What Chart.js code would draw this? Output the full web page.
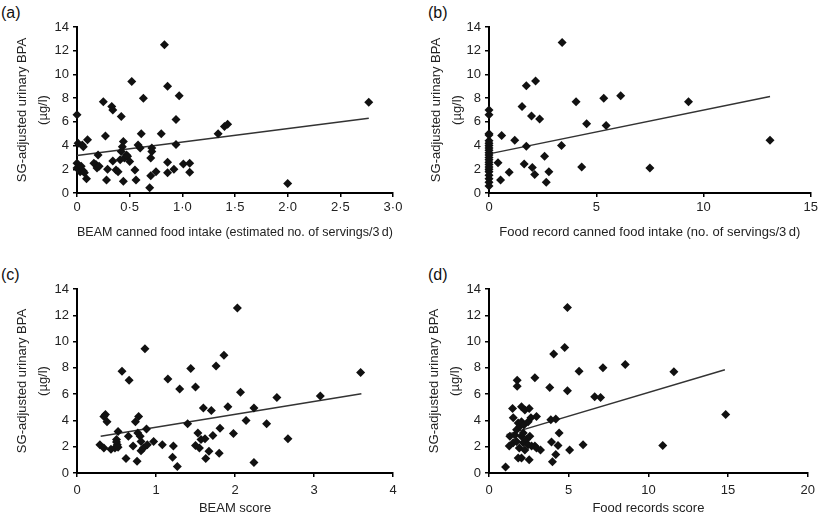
<!DOCTYPE html>
<html>
<head>
<meta charset="utf-8">
<script src="https://cdn.jsdelivr.net/npm/chart.js@4.4.1/dist/chart.umd.min.js"></script>
<style>
  body { margin: 0; background: #fff; width: 821px; height: 519px; position: relative; overflow: hidden;
         font-family: "Liberation Sans", Arial, sans-serif; }
  canvas { position: absolute; }
  .tag { position: absolute; font-size: 16px; color: #111; line-height: 16px; }
</style>
</head>
<body>
<div class="tag" style="left:1px;top:5px">(a)</div>
<div class="tag" style="left:428px;top:5px">(b)</div>
<div class="tag" style="left:1px;top:267px">(c)</div>
<div class="tag" style="left:428px;top:267px">(d)</div>
<canvas id="pa" width="410" height="250" style="left:0;top:0"></canvas>
<canvas id="pb" width="411" height="250" style="left:410px;top:0"></canvas>
<canvas id="pc" width="410" height="259" style="left:0;top:260px"></canvas>
<canvas id="pd" width="411" height="259" style="left:410px;top:260px"></canvas>
<script>
// (a) BEAM canned food intake vs BPA
const beamCannedX = [0, 0, 0, 0.01, 0.03, 0.05, 0.06, 0.04, 0.06, 0.07, 0.1, 0.09, 0.16, 0.18, 0.19, 0.2, 0.21,
  0.25, 0.27, 0.28, 0.29, 0.33, 0.34, 0.34, 0.37, 0.39, 0.41, 0.42, 0.44, 0.43, 0.42, 0.44, 0.45, 0.47, 0.48,
  0.5, 0.52, 0.55, 0.56, 0.58, 0.6, 0.61, 0.63, 0.69, 0.71, 0.7, 0.7, 0.71, 0.75, 0.8, 0.83, 0.86, 0.86, 0.86,
  0.92, 0.94, 0.94, 0.97, 1.01, 1.07, 1.07, 1.34, 1.4, 1.43, 2.0, 2.77];
const beamCannedY = [6.6, 2.5, 2.1, 4.2, 1.8, 4.05, 3.9, 2.25, 1.85, 1.7, 4.5, 1.2, 2.5, 2.4, 2.1, 3.2, 2.25,
  7.7, 4.8, 1.1, 2.0, 7.3, 7.0, 2.7, 1.95, 1.8, 2.8, 6.45, 4.35, 3.9, 3.5, 1.0, 2.95, 3.2, 3.1,
  2.65, 9.4, 1.95, 1.1, 4.05, 3.8, 5.0, 8.0, 0.45, 3.8, 2.95, 1.45, 3.5, 1.8, 5.0, 12.5, 9.0, 2.6, 1.7,
  2.0, 6.2, 4.1, 8.2, 2.45, 2.5, 1.75, 5.0, 5.6, 5.8, 0.8, 7.65];
const beamCannedFit = [[0, 3.17], [2.77, 6.3]];

// (b) food record canned food intake vs BPA
const recordCannedX = [0, 0, 0, 0, 0, 0, 0, 0, 0, 0, 0, 0, 0, 0, 0, 0, 0, 0, 0, 0, 0, 0,
  0.42, 0.54, 0.59, 0.94, 1.2, 1.54, 1.74, 2.17, 1.64, 1.74, 1.98, 2.02, 2.13, 2.36, 2.59, 2.79, 2.67,
  3.41, 3.38, 4.06, 4.32, 4.55, 5.35, 5.46, 6.14, 7.5, 9.3, 13.1];
const recordCannedY = [0.6, 0.9, 1.2, 1.5, 1.8, 2.0, 2.2, 2.4, 2.6, 2.8, 3.0, 3.2, 3.4, 3.6, 3.8, 4.0, 4.2, 4.4, 4.9, 5.0, 6.6, 7.0,
  2.55, 1.1, 4.85, 1.75, 4.45, 7.3, 9.05, 9.45, 2.45, 3.95, 6.5, 2.15, 1.55, 6.25, 3.1, 1.8, 0.9,
  12.7, 4.0, 7.7, 2.2, 5.85, 8.0, 5.7, 8.2, 2.1, 7.7, 4.45];
const recordCannedFit = [[0, 3.3], [13.1, 8.13]];

// (c) BEAM score vs BPA
const beamScoreX = [0.29, 0.34, 0.34, 0.36, 0.38, 0.43, 0.48, 0.5, 0.51, 0.52, 0.5, 0.52, 0.57, 0.62, 0.65, 0.66,
  0.71, 0.74, 0.76, 0.78, 0.77, 0.8, 0.81, 0.81, 0.84, 0.86, 0.88, 0.89, 0.97, 1.08, 1.15, 1.22, 1.21, 1.27,
  1.3, 1.4, 1.44, 1.5, 1.5, 1.53, 1.55, 1.57, 1.6, 1.62, 1.63, 1.67, 1.7, 1.72, 1.76, 1.8, 1.81, 1.86, 1.91,
  1.98, 2.03, 2.07, 2.14, 2.24, 2.24, 2.4, 2.53, 2.67, 3.08, 3.59];
const beamScoreY = [2.15, 1.9, 4.3, 4.45, 3.9, 1.8, 1.9, 2.55, 2.15, 3.15, 2.35, 1.95, 7.75, 1.1, 2.8, 7.05,
  2.05, 3.9, 0.9, 4.3, 3.05, 2.8, 2.4, 1.7, 1.9, 9.45, 3.35, 2.15, 2.4, 2.15, 7.15, 2.05, 1.2, 0.5,
  6.4, 3.75, 7.95, 2.1, 6.55, 3.05, 1.9, 2.55, 4.95, 2.6, 1.1, 1.65, 4.75, 2.85, 8.15, 1.5, 3.4, 8.95, 5.05,
  3.0, 12.55, 6.15, 4.0, 4.95, 0.8, 3.75, 5.75, 2.6, 5.85, 7.65];
const beamScoreFit = [[0.3, 2.79], [3.6, 6.03]];

// (d) food records score vs BPA
const recordScoreX = [1.04, 1.27, 1.31, 1.48, 1.52, 1.52, 1.63, 1.73, 1.73, 1.77, 1.77, 1.83, 1.83, 1.9, 1.94,
  2.04, 2.04, 2.04, 2.04, 2.15, 2.15, 2.19, 2.25, 2.25, 2.35, 2.46, 2.46, 2.52, 2.52, 2.56, 2.63, 2.67, 2.88,
  2.88, 2.98, 2.98, 3.23, 3.81, 3.88, 3.92, 3.98, 4.06, 4.19, 4.19, 4.33, 4.4, 4.75, 4.92, 4.92, 5.06, 5.65,
  5.9, 6.63, 7.0, 7.15, 8.55, 10.9, 11.6, 14.85];
const recordScoreY = [0.45, 2.05, 2.8, 4.9, 2.3, 4.2, 2.9, 3.3, 2.4, 7.05, 6.6, 3.8, 1.15, 1.9, 3.55,
  5.05, 3.9, 2.8, 1.15, 2.3, 3.05, 3.65, 1.75, 4.8, 2.55, 2.15, 3.9, 4.9, 1.0, 2.8, 4.2, 2.05, 7.25,
  2.05, 4.3, 1.9, 1.75, 6.5, 4.05, 2.35, 0.85, 9.05, 4.1, 1.4, 2.1, 3.05, 9.55, 12.6, 6.25, 1.75, 7.75,
  2.15, 5.8, 5.75, 8.0, 8.25, 2.1, 7.7, 4.45];
const recordScoreFit = [[1.1, 2.92], [14.8, 7.85]];

const yTicks = { min: 0, max: 14, step: 2 };
const yTitle = ['SG-adjusted urinary BPA', '(\u00b5g/l)'];

function dotted(v) {
  return v === 0 ? '0' : v.toFixed(1).replace('.', '\u00b7');
}

function makePanel(id, xs, ys, fit, xMax, xStep, xLabel, fmt, box) {
  const pts = xs.map((x, i) => ({ x: x, y: ys[i] }));
  new Chart(document.getElementById(id), {
    type: 'scatter',
    data: {
      datasets: [
        { data: pts, pointStyle: 'rectRot', pointRadius: 4.5, pointHoverRadius: 4.5,
          backgroundColor: '#111', borderColor: '#111', borderWidth: 0, clip: false },
        { data: fit.map(p => ({ x: p[0], y: p[1] })), showLine: true, pointRadius: 0,
          borderColor: '#333', borderWidth: 1.5, clip: false }
      ]
    },
    options: {
      responsive: false,
      animation: false,
      layout: { padding: { top: box.top, right: box.right, left: 0, bottom: 0 } },
      plugins: { legend: { display: false }, tooltip: { enabled: false } },
      scales: {
        x: {
          type: 'linear', min: 0, max: xMax,
          afterFit: s => { s.height = box.xh; },
          border: { color: '#000', width: 2 },
          grid: { drawOnChartArea: false, drawTicks: true, tickLength: 4, color: '#000', lineWidth: 1.5 },
          ticks: { stepSize: xStep, padding: box.tp, color: '#222', maxRotation: 0,
                   font: { family: 'Liberation Sans', size: 13 }, callback: fmt },
          title: { display: true, text: xLabel, color: '#222', padding: { top: 0, bottom: box.tb },
                   font: { family: 'Liberation Sans', size: 13, lineHeight: 1.2 } }
        },
        y: {
          min: yTicks.min, max: yTicks.max,
          afterFit: s => { s.width = box.yw; },
          border: { color: '#000', width: 2 },
          grid: { drawOnChartArea: false, drawTicks: true, tickLength: 4, color: '#000', lineWidth: 1.5 },
          ticks: { stepSize: yTicks.step, padding: 4, color: '#222',
                   font: { family: 'Liberation Sans', size: 13 } },
          title: { display: true, text: yTitle, color: '#222', padding: { top: box.yp, bottom: 0 },
                   font: { family: 'Liberation Sans', size: 13, lineHeight: 1.6 } }
        }
      }
    }
  });
}

makePanel('pa', beamCannedX, beamCannedY, beamCannedFit, 3, 0.5,
  'BEAM canned food intake (estimated no. of servings/3\u2009d)', dotted,
  { top: 27, right: 17, xh: 57, yw: 77, tp: 3, tb: 10, yp: 12 });
makePanel('pb', recordCannedX, recordCannedY, recordCannedFit, 15, 5,
  'Food record canned food intake (no. of servings/3\u2009d)', v => v,
  { top: 27, right: 8, xh: 57, yw: 79, tp: 3, tb: 10, yp: 16 });
makePanel('pc', beamScoreX, beamScoreY, beamScoreFit, 4, 1,
  'BEAM score', v => v,
  { top: 29, right: 17, xh: 46, yw: 77, tp: 6, tb: 3, yp: 12 });
makePanel('pd', recordScoreX, recordScoreY, recordScoreFit, 20, 5,
  'Food records score', v => v,
  { top: 29, right: 8, xh: 46, yw: 79, tp: 6, tb: 3, yp: 14 });
</script>
</body>
</html>
